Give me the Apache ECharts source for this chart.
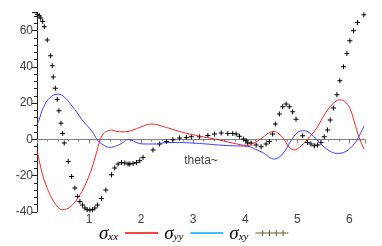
<!DOCTYPE html>
<html><head><meta charset="utf-8">
<script src="https://cdn.jsdelivr.net/npm/echarts@6/dist/echarts.min.js"></script>
<style>html,body{margin:0;padding:0;background:#fff}#c{width:382px;height:246px}</style>
</head><body><div id="c"></div>
<script>
var thetaXX = [0,0.057,0.121,0.217,0.312,0.408,0.485,0.569,0.665,0.791,0.92,1.048,1.144,1.207,1.27,1.335,1.431,1.527,1.653,1.749,1.973,2.197,2.485,2.739,2.994,3.25,3.506,3.761,4.048,4.1,4.2,4.335,4.45,4.56,4.65,4.718,4.847,4.943,5.038,5.198,5.358,5.454,5.55,5.676,5.818,5.933,6.029,6.092,6.188,6.283];
var sigmaXX = [-6.2,-13.5,-20.9,-28.3,-33.8,-37.5,-38.7,-38.3,-36.5,-32,-25.5,-16.3,-7.2,-0.7,3,4.4,5.2,4.4,4.2,4.4,6.6,8.5,6.6,4.4,2.6,1.1,-0.3,-2,-3.3,-3,-1.5,1.1,3.5,4.4,3,1.1,-4.4,-5.8,-4.4,0.2,5.7,10.3,14.9,19.5,21.9,20.4,15.8,10,1.1,-5.5];
var thetaYY = [0,0.044,0.121,0.249,0.408,0.536,0.695,0.76,0.856,0.92,1.048,1.174,1.303,1.398,1.527,1.653,1.749,1.85,1.91,2.036,2.293,2.485,2.739,2.994,3.25,3.506,3.761,4.048,4.2,4.335,4.56,4.718,4.879,5.006,5.134,5.262,5.454,5.613,5.772,5.933,6.092,6.188,6.283];
var sigmaYY = [8.5,11.2,17.6,23.1,25,23.1,17.6,15.2,11.2,9,4.8,-0.7,-3.5,-4.4,-3.5,-1.7,0,-0.8,-1.7,-2.5,-2.5,-1.7,-1.7,-2,-2.5,-3.1,-3.5,-3.8,-5.5,-7.2,-10.8,-8,-0.7,3.9,4.8,3,-2.5,-6.2,-7.7,-6.6,-2.5,2,7.5];
var thetaXY = [0.006,0.044,0.071,0.109,0.140,0.197,0.262,0.293,0.312,0.351,0.389,0.421,0.460,0.492,0.523,0.600,0.665,0.728,0.780,0.824,0.875,0.920,0.964,1.015,1.067,1.111,1.163,1.239,1.322,1.431,1.494,1.557,1.623,1.686,1.749,1.782,1.845,1.910,1.973,2.036,2.228,2.356,2.485,2.611,2.739,2.868,2.964,3.123,3.282,3.410,3.538,3.665,3.761,3.826,3.889,3.966,4.017,4.048,4.113,4.209,4.305,4.400,4.464,4.527,4.579,4.655,4.718,4.784,4.847,4.910,4.975,5.102,5.197,5.262,5.326,5.389,5.454,5.517,5.580,5.632,5.695,5.761,5.818,5.887,5.952,6.010,6.079,6.155,6.278];
var sigmaXY = [69.1,68.2,66.9,65.0,62.1,54.9,46.1,40.6,34.5,28.3,22.0,15.8,9.0,3.3,-2.0,-12.1,-20.4,-26.8,-31.4,-34.2,-36.1,-37.8,-38.7,-38.9,-38.7,-37.8,-36.1,-32.5,-27.9,-19.4,-15.8,-13.6,-12.7,-13.0,-13.6,-13.6,-13.2,-12.7,-11.7,-9.9,-5.8,-2.5,-1.1,-0.2,0.8,1.1,1.5,1.5,2.2,3.0,3.5,3.3,3.3,3.0,1.7,0.2,-0.7,-2.0,-2.0,-3.1,-4.0,-2.5,-1.1,3.0,8.5,14.0,18.0,19.5,18.0,15.3,11.2,2.0,-1.7,-2.5,-3.5,-3.1,-1.7,1.5,5.2,10.7,17.3,24.6,32.3,40.1,47.4,54.4,59.9,64.5,68.7];
var xTicks = [0,1,2,3,4,5,6];
var yTicks = [-40,-20,0,20,40,60];
var xName = 'theta~';

function pairs(a,b){return a.map(function(t,i){return [t,b[i]];});}
var chart = echarts.init(document.getElementById('c'));
var lineIcon = 'path://M0,0H34V1.4H0Z';
var crossIcon = 'path://M0,3.5H34V4.5H0Z M7,1H8V7H7Z M14,1H15V7H14Z M21,1H22V7H21Z M28,1H29V7H28Z';
var rich = {
  s:{fontFamily:'Liberation Serif',fontStyle:'italic',fontSize:19,color:'#000',lineHeight:20,verticalAlign:'bottom'},
  sub:{fontFamily:'Liberation Serif',fontStyle:'italic',fontSize:11,color:'#000',lineHeight:20,verticalAlign:'bottom',padding:[0,2,0,0]}
};
chart.setOption({
  animation:false,
  grid:{left:37,right:17,top:12.5,bottom:34},
  xAxis:{type:'value',min:0,max:6.3,interval:1,
    axisLine:{onZero:true,lineStyle:{color:'#808080',width:1}},
    axisTick:{show:true,length:4,inside:false,lineStyle:{color:'#808080'}},
    minorTick:{show:true,splitNumber:5,length:2,lineStyle:{color:'#808080'}},
    splitLine:{show:false},
    axisLabel:{margin:2,fontFamily:'Liberation Sans',fontSize:12,color:'#404040',showMinLabel:false,showMaxLabel:false,
      formatter:function(v){return xTicks.indexOf(v)>=0?String(v):'';}}
  },
  yAxis:{type:'value',min:-40,max:70,interval:20,
    axisLine:{show:true,lineStyle:{color:'#202020',width:1}},
    axisTick:{show:true,length:5,lineStyle:{color:'#202020'}},
    minorTick:{show:true,splitNumber:5,length:3,lineStyle:{color:'#202020'}},
    splitLine:{show:false},
    axisLabel:{margin:4,fontFamily:'Liberation Sans',fontSize:12,color:'#404040',showMaxLabel:false,
      formatter:function(v){return yTicks.indexOf(v)>=0?String(v):'';}}
  },
  legend:{left:94,top:219,align:'right',itemGap:6,itemWidth:33,itemHeight:8,
    formatter:function(n){return '{s|σ}{sub|'+n+'}';},
    textStyle:{rich:rich,padding:[0,0,0,0]},
    data:[
      {name:'xx',icon:lineIcon,itemStyle:{color:'#ff0000'}},
      {name:'yy',icon:lineIcon,itemStyle:{color:'#00a8ff'}},
      {name:'xy',icon:crossIcon,itemStyle:{color:'#6b5a2a'}}
    ]
  },
  series:[
    {name:'xx',type:'line',data:pairs(thetaXX,sigmaXX),smooth:0.4,showSymbol:false,symbol:'none',
      lineStyle:{color:'#ff2020',width:1},itemStyle:{color:'#ff0000'}},
    {name:'yy',type:'line',data:pairs(thetaYY,sigmaYY),smooth:0.4,showSymbol:false,symbol:'none',
      lineStyle:{color:'#3a3aff',width:1},itemStyle:{color:'#00a8ff'}},
    {name:'xy',type:'scatter',data:pairs(thetaXY,sigmaXY),
      symbol:'path://M2,0H3V5H2Z M0,2H5V3H0Z',symbolSize:5,
      itemStyle:{color:'#000',opacity:1}}
  ]
});
var namePos = chart.convertToPixel({gridIndex:0},[3.15,0]);
chart.setOption({graphic:[{type:'text',x:namePos[0],y:namePos[1]+15,
  style:{text:xName,fontFamily:'Liberation Sans',fontSize:12,fill:'#404040',align:'center',verticalAlign:'top'}}]});
</script></body></html>
